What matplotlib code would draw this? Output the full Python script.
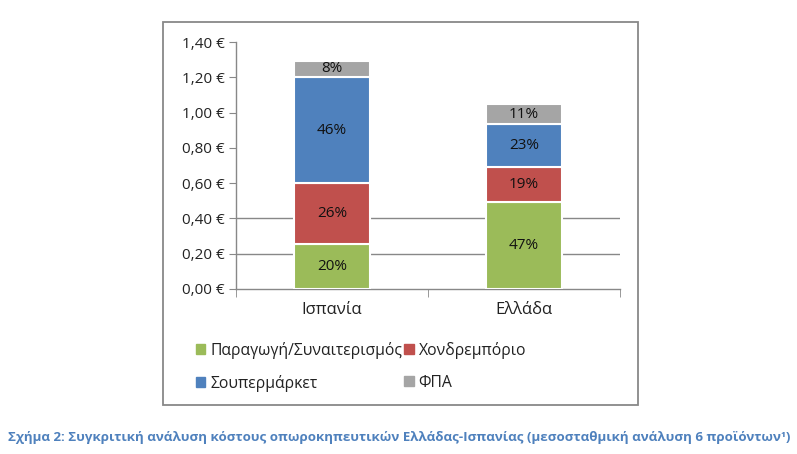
import matplotlib
matplotlib.use("Agg")
import matplotlib.pyplot as plt
from matplotlib.patches import Rectangle, Patch
from matplotlib.ticker import FixedLocator, FuncFormatter

plt.rcParams['font.family'] = ['Open Sans', 'DejaVu Sans']

categories = ["Ισπανία", "Ελλάδα"]
series_names = ["Παραγωγή/Συναιτερισμός", "Χονδρεμπόριο", "Σουπερμάρκετ", "ΦΠΑ"]
values = {
    "Παραγωγή/Συναιτερισμός": [0.255, 0.495],
    "Χονδρεμπόριο": [0.345, 0.198],
    "Σουπερμάρκετ": [0.60, 0.24],
    "ΦΠΑ": [0.095, 0.117],
}
pct_labels = {
    "Παραγωγή/Συναιτερισμός": ["20%", "47%"],
    "Χονδρεμπόριο": ["26%", "19%"],
    "Σουπερμάρκετ": ["46%", "23%"],
    "ΦΠΑ": ["8%", "11%"],
}
colors = ["#9BBB59", "#C0504D", "#4F81BD", "#A5A5A5"]
yticks = [0.0, 0.2, 0.4, 0.6, 0.8, 1.0, 1.2, 1.4]
grid_ticks = [0.2, 0.4]
caption = "Σχήμα 2: Συγκριτική ανάλυση κόστους οπωροκηπευτικών Ελλάδας-Ισπανίας (μεσοσταθμική ανάλυση 6 προϊόντων"

W, H = 797, 454
fig = plt.figure(figsize=(W / 100, H / 100), dpi=100)

# outer chart frame
fig.patches.append(Rectangle((163 / W, 1 - 405 / H), (638 - 163) / W, (405 - 22) / H,
                             transform=fig.transFigure, fill=False,
                             edgecolor="#888888", linewidth=1.3, zorder=0))

ax = fig.add_axes([236 / W, 1 - 289 / H, (620 - 236) / W, (289 - 42) / H])
ax.set_xlim(-0.5, 1.5)
ax.set_ylim(0, 1.4)

x = list(range(len(categories)))
bottoms = [0.0] * len(categories)
handles = []
for name, col in zip(series_names, colors):
    vals = values[name]
    bars = ax.bar(x, vals, width=0.4, bottom=bottoms, color=col,
                  edgecolor="white", linewidth=1.5, zorder=3)
    for b, lab in zip(bars, pct_labels[name]):
        ax.text(b.get_x() + b.get_width() / 2, b.get_y() + b.get_height() / 2,
                lab, ha="center", va="center", fontsize=11, color="#111111", zorder=4)
    bottoms = [bt + v for bt, v in zip(bottoms, vals)]
    handles.append(Patch(facecolor=col, edgecolor=col))

for g in grid_ticks:
    ax.axhline(g, color="#888888", linewidth=1.0, zorder=1)

for s in ["top", "right"]:
    ax.spines[s].set_visible(False)
for s in ["left", "bottom"]:
    ax.spines[s].set_color("#888888")
    ax.spines[s].set_linewidth(1.0)

ax.yaxis.set_major_locator(FixedLocator(yticks))
ax.yaxis.set_major_formatter(FuncFormatter(lambda v, p: f"{v:.2f}".replace(".", ",") + " €"))
ax.tick_params(axis="y", direction="out", length=5, color="#888888", labelsize=11,
               labelcolor="#222222", pad=3)
ax.set_xticks(x)
ax.set_xticklabels(categories, fontsize=12, color="#222222")
ax.tick_params(axis="x", which="major", length=0, pad=9)
ax.xaxis.set_minor_locator(FixedLocator([-0.5, 0.5, 1.5]))
ax.tick_params(axis="x", which="minor", direction="out", length=6, color="#888888")

order = [0, 2, 1, 3]
leg = fig.legend([handles[i] for i in order], [series_names[i] for i in order],
                 ncol=2, loc="upper left", bbox_to_anchor=(196 / W, 1 - 342 / H),
                 frameon=False, fontsize=11.3, handlelength=0.6, handleheight=0.6,
                 handletextpad=0.3, columnspacing=0.15, labelspacing=1.0,
                 borderpad=0, borderaxespad=0)
for t in leg.get_texts():
    t.set_color("#222222")

fig.text(8 / W, 1 - 437 / H, caption + "¹)", fontsize=9.6, fontweight="bold",
         color="#4F81BD", ha="left", va="center")

fig.savefig("out.png", dpi=100)
